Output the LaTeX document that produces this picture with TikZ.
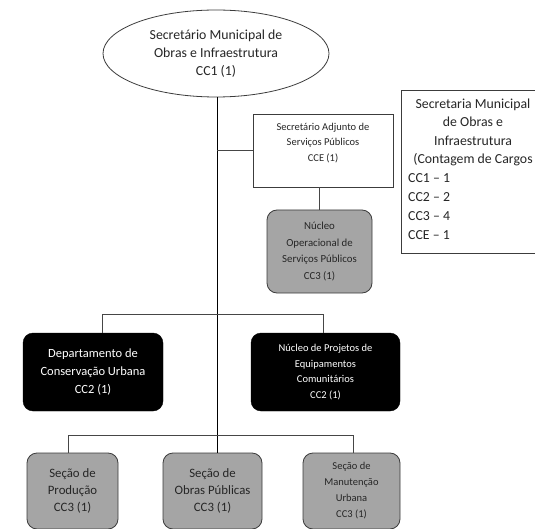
\documentclass[tikz,border=0pt]{standalone}
\usepackage{fontspec}
\setmainfont{Carlito}
\usetikzlibrary{shapes.geometric}
\definecolor{boxgray}{RGB}{165,165,165}
\definecolor{edgegray}{RGB}{60,60,60}
\definecolor{linegray}{RGB}{70,70,70}
\tikzset{
  x=1pt, y=-1pt,
  connector/.style={draw=linegray, line width=0.7pt},
  mainline/.style={draw=black, line width=0.8pt},
  whitebox/.style={draw=edgegray, line width=0.8pt, fill=white, rectangle, inner sep=0pt},
  graybox/.style={draw=edgegray, line width=0.8pt, fill=boxgray, rectangle, rounded corners=10pt, inner sep=0pt, align=center, text=black!85},
  blackbox/.style={draw=black, fill=black, rectangle, rounded corners=10pt, inner sep=0pt, align=center, text=white},
  txt/.style={inner sep=0pt, align=center, text=black!85},
  bigfont/.style={font=\fontsize{13.8}{18.3}\selectfont},
  smallfont/.style={font=\fontsize{10.5}{15.5}\selectfont},
}
\begin{document}
\begin{tikzpicture}
\clip (0,0) rectangle (535,529);
\fill[white] (0,0) rectangle (535,529);

% top ellipse
\node[ellipse, draw=edgegray, line width=0.8pt, fill=white, minimum width=226pt, minimum height=87pt, inner sep=0pt, align=center, bigfont, text=black!85] (sec) at (216,53.5) {Secretário Municipal de\\Obras e Infraestrutura\\CC1 (1)};

% adjunto
\node[whitebox, minimum width=140pt, minimum height=73pt] (adj) at (323,150.5) {};
\node[txt, smallfont] (adjtext) at (323,143) {Secretário Adjunto de\\Serviços Públicos\\CCE (1)};

% nucleo operacional
\node[graybox, font=\fontsize{10.8}{16.7}\selectfont, minimum width=105pt, minimum height=83pt] (nop) at (319.5,251.5) {Núcleo\\Operacional de\\Serviços Públicos\\CC3 (1)};

% right info box
\node[whitebox, minimum width=145pt, minimum height=163pt] (info) at (473.5,171.5) {};
\node[txt, bigfont] (infohead) at (473,132.5) {Secretaria Municipal\\de Obras e\\Infraestrutura\\(Contagem de Cargos};
\node[txt, align=left, font=\fontsize{13.8}{18.8}\selectfont, anchor=west] (infocount) at (408,206.5) {CC1 -- 1\\CC2 -- 2\\CC3 -- 4\\CCE -- 1};

% black boxes
\node[blackbox, font=\fontsize{12.5}{18}\selectfont, minimum width=140pt, minimum height=78pt] (dcu) at (93,372) {Departamento de\\Conservação Urbana\\CC2 (1)};
\node[blackbox, font=\fontsize{10.5}{15.8}\selectfont, minimum width=149pt, minimum height=78pt] (npe) at (325.5,372) {Núcleo de Projetos de\\Equipamentos\\Comunitários\\CC2 (1)};

% bottom gray boxes
\node[graybox, font=\fontsize{12.8}{17}\selectfont, minimum width=91pt, minimum height=76pt] (sp) at (72.5,491) {Seção de\\Produção\\CC3 (1)};
\node[graybox, font=\fontsize{12.8}{17}\selectfont, minimum width=99pt, minimum height=76pt] (sop) at (212.5,491) {Seção de\\Obras Públicas\\CC3 (1)};
\node[graybox, font=\fontsize{10.5}{16}\selectfont, minimum width=97pt, minimum height=76pt] (smu) at (351.5,491) {Seção de\\Manutenção\\Urbana\\CC3 (1)};

% junction coordinates
\coordinate (j1) at (217,150);
\coordinate (j2) at (217,314);
\coordinate (j3) at (217,435);
\coordinate (l2) at (102,314);
\coordinate (r2) at (323,314);
\coordinate (l3) at (68,435);
\coordinate (r3) at (353,435);

% connectors
\draw[mainline] (sec.south -| j1) -- (sop.north -| j1);
\draw[connector] (j1) -- (adj.west |- j1);
\draw[connector] (adj.south -| nop.north) -- (nop.north);
\draw[connector] (dcu.north -| l2) -- (l2) -- (r2) -- (npe.north -| r2);
\draw[connector] (sp.north -| l3) -- (l3) -- (r3) -- (smu.north -| r3);
\end{tikzpicture}
\end{document}
